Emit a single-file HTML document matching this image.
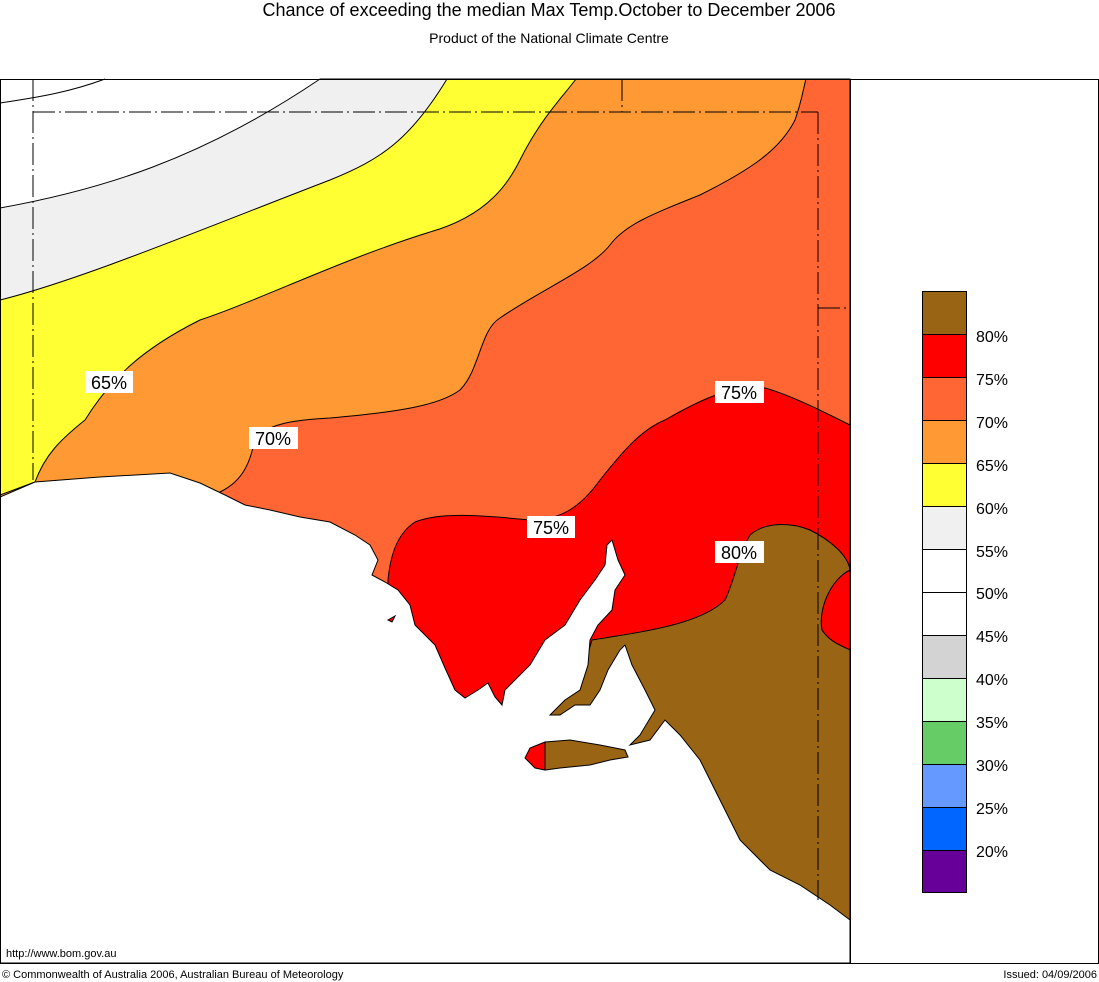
<!DOCTYPE html>
<html><head><meta charset="utf-8"><style>
html,body{margin:0;padding:0;background:#fff;}
svg{display:block;font-family:"Liberation Sans",Arial,sans-serif;}
</style></head><body>
<svg width="1099" height="982" viewBox="0 0 1099 982" xmlns="http://www.w3.org/2000/svg">
<rect width="1099" height="982" fill="#fff"/>
<text x="549" y="16" font-size="18" text-anchor="middle">Chance of exceeding the median Max Temp.October to December 2006</text>
<text x="549" y="43" font-size="14" text-anchor="middle">Product of the National Climate Centre</text>
<g stroke="#000" stroke-width="1">
<path d="M0,103 C40,97 70,92 105,79" fill="none"/>
<path d="M0,208 C100,190 200,160 320,79 L850,79 L850,963 L0,963 Z" fill="#f0f0f0"/>
<path d="M0,300 C80,280 200,230 330,180 C380,160 410,140 447,79 L850,79 L850,963 L0,963 Z" fill="#ffff33"/>
<path d="M0,495 L35,482 C45,455 60,440 85,420 C110,380 140,350 200,320 C260,300 340,260 430,232 C490,215 510,180 520,160 C540,120 560,100 576,79 L850,79 L850,963 L0,963 Z" fill="#ff9933"/>
<path d="M220,492 C245,480 250,460 255,440 C265,425 290,420 330,418 C400,412 440,405 460,390 C480,370 480,330 500,318 C540,290 590,270 610,245 C625,225 650,215 700,195 C750,170 780,150 795,120 C802,100 803,90 806,79 L850,79 L850,963 L220,963 Z" fill="#ff6633"/>
<path d="M388,580 C390,560 395,535 415,522 C440,512 480,515 530,520 C560,520 580,508 600,480 C620,455 640,430 665,420 C700,400 730,385 765,388 C790,395 820,410 850,425 L850,963 L388,963 Z" fill="#ff0000"/>
<path d="M592,640 C640,632 700,625 725,600 C735,580 738,555 750,535 C765,522 790,522 810,530 C830,540 848,555 850,570 L850,963 L540,963 L540,720 L580,680 Z" fill="#996515"/>
<path d="M850,570 C830,580 818,610 822,630 C830,642 840,645 850,650 Z" fill="#ff0000"/>
</g>
<path d="M0,497 L35,482 L100,477 L170,473 L200,483 L225,495 L245,505 L270,510 L300,517 L330,522 L355,535 L370,545 L378,560 L372,575 L385,582 L398,590 L410,605 L415,625 L435,645 L445,668 L455,690 L465,698 L478,690 L488,683 L495,697 L502,705 L505,690 L530,665 L545,640 L565,625 L580,600 L595,580 L605,565 L607,545 L612,540 L618,560 L625,575 L615,590 L612,610 L598,625 L590,640 L588,665 L580,690 L565,700 L550,715 L560,715 L575,705 L590,705 L600,690 L608,670 L620,650 L625,645 L632,665 L645,690 L655,710 L640,735 L630,745 L650,740 L665,720 L680,735 L700,760 L720,800 L740,840 L770,870 L800,885 L830,905 L850,920 L850,963 L0,963 Z" fill="#fff" stroke="#000" stroke-width="1"/>
<path d="M545,742 L570,740 L600,745 L625,750 L628,757 L610,760 L590,765 L560,768 L545,770 Z" fill="#996515" stroke="#000"/>
<path d="M545,742 L530,748 L525,758 L535,768 L545,770 Z" fill="#ff0000" stroke="#000"/>
<path d="M388,620 L395,616 L392,622 Z" fill="#ff0000" stroke="#000"/>
<g stroke="#000" stroke-width="1" stroke-dasharray="22,4,2,4" fill="none">
<path d="M33,79 V480"/>
<path d="M33,112 H818"/>
<path d="M818,112 V900"/>
<path d="M622,79 V112"/>
<path d="M818,308 H850"/>
</g>
<rect x="0.5" y="79.5" width="1098" height="884" fill="none" stroke="#000"/>
<line x1="850.5" y1="79" x2="850.5" y2="963" stroke="#000"/>
<g font-size="18" text-anchor="middle">
<rect x="85" y="371" width="48" height="22" fill="#fff"/><text x="109" y="389">65%</text>
<rect x="249" y="427" width="49" height="22" fill="#fff"/><text x="273" y="445">70%</text>
<rect x="715" y="381" width="49" height="22" fill="#fff"/><text x="739" y="399">75%</text>
<rect x="527" y="516" width="48" height="22" fill="#fff"/><text x="551" y="534">75%</text>
<rect x="715" y="541" width="49" height="22" fill="#fff"/><text x="739" y="559">80%</text>
</g>
<g stroke="#000" stroke-width="1">
<rect x="922.5" y="291.5" width="44" height="43" fill="#996515"/>
<rect x="922.5" y="334.5" width="44" height="43" fill="#ff0000"/>
<rect x="922.5" y="377.5" width="44" height="43" fill="#ff6633"/>
<rect x="922.5" y="420.5" width="44" height="43" fill="#ff9933"/>
<rect x="922.5" y="463.5" width="44" height="43" fill="#ffff33"/>
<rect x="922.5" y="506.5" width="44" height="43" fill="#f0f0f0"/>
<rect x="922.5" y="549.5" width="44" height="43" fill="#ffffff"/>
<rect x="922.5" y="592.5" width="44" height="43" fill="#ffffff"/>
<rect x="922.5" y="635.5" width="44" height="43" fill="#d3d3d3"/>
<rect x="922.5" y="678.5" width="44" height="43" fill="#ccffcc"/>
<rect x="922.5" y="721.5" width="44" height="43" fill="#66cc66"/>
<rect x="922.5" y="764.5" width="44" height="43" fill="#6699ff"/>
<rect x="922.5" y="807.5" width="44" height="43" fill="#0066ff"/>
<rect x="922.5" y="850.5" width="44" height="42" fill="#660099"/>
</g>
<g font-size="16">
<text x="976" y="342">80%</text><text x="976" y="385">75%</text><text x="976" y="428">70%</text>
<text x="976" y="471">65%</text><text x="976" y="514">60%</text><text x="976" y="557">55%</text>
<text x="976" y="599">50%</text><text x="976" y="642">45%</text><text x="976" y="685">40%</text>
<text x="976" y="728">35%</text><text x="976" y="771">30%</text><text x="976" y="814">25%</text>
<text x="976" y="857">20%</text>
</g>
<text x="6" y="957" font-size="11">http://www.bom.gov.au</text>
<text x="2" y="978" font-size="11">© Commonwealth of Australia 2006, Australian Bureau of Meteorology</text>
<text x="1097" y="978" font-size="11" text-anchor="end">Issued: 04/09/2006</text>
</svg>
</body></html>
